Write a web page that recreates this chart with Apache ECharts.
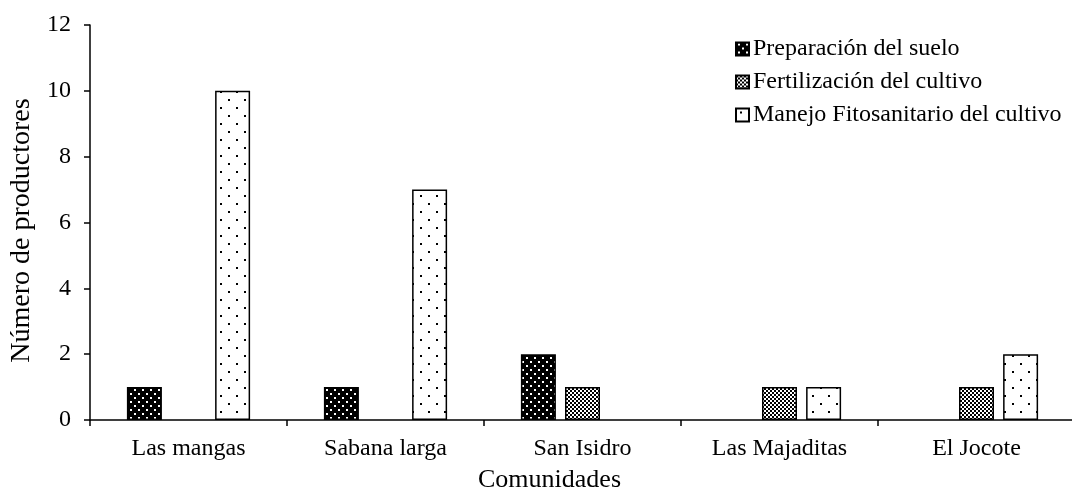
<!DOCTYPE html>
<html>
<head>
<meta charset="utf-8">
<script src="https://cdn.jsdelivr.net/npm/echarts@6/dist/echarts.min.js"></script>
<style>
  html, body { margin: 0; padding: 0; background: #fff; }
  #chart { width: 1072px; height: 491px; }
</style>
</head>
<body>
<div id="chart"></div>
<script>
// Communities surveyed and number of producers per practice
const categories = ['Las mangas', 'Sabana larga', 'San Isidro', 'Las Majaditas', 'El Jocote'];
const seriesNames = ['Preparación del suelo', 'Fertilización del cultivo', 'Manejo Fitosanitario del cultivo'];
const preparacion = [1, 1, 2, 0, 0];
const fertilizacion = [0, 0, 1, 1, 1];
const fitosanitario = [10, 7, 0, 1, 2];
const yTicks = { min: 0, max: 12, interval: 2 };

// Fill patterns for the bars (tiles repeated by the canvas)
function tile(size, bg, fg, dots, dot) {
  const c = document.createElement('canvas');
  c.width = size; c.height = size;
  const g = c.getContext('2d');
  g.fillStyle = bg; g.fillRect(0, 0, size, size);
  g.fillStyle = fg;
  dots.forEach(p => g.fillRect(p[0], p[1], dot, dot));
  return { image: c, repeat: 'repeat' };
}
const patDark = tile(8, '#000', '#fff', [[2, 1], [6, 5]], 2);
const patCheck = tile(4, '#fff', '#000', [[0, 0], [2, 2]], 2);
const patSparse = tile(16, '#fff', '#000', [[4, 3], [12, 11]], 2);

const font = 'Liberation Serif, Times New Roman, serif';
const chart = echarts.init(document.getElementById('chart'), null, { renderer: 'canvas' });

function barSeries(name, values, fill) {
  return {
    name: name,
    type: 'bar',
    // zero-height bars get no outline so nothing is drawn over the axis
    data: values.map(v => (v === 0 ? { value: v, itemStyle: { borderWidth: 0 } } : v)),
    barWidth: 35,
    barGap: '26%',
    itemStyle: { color: fill, borderColor: '#000', borderWidth: 1.5 },
    emphasis: { disabled: true },
    animation: false
  };
}

chart.setOption({
  backgroundColor: '#fff',
  animation: false,
  grid: { left: 90, right: -3, top: 25, bottom: 71, containLabel: false, outerBoundsMode: 'none' },
  legend: {
    orient: 'vertical',
    left: 730,
    top: 32,
    itemWidth: 13,
    itemHeight: 13,
    itemGap: 9,
    icon: 'rect',
    data: seriesNames,
    textStyle: { fontFamily: font, fontSize: 24, color: '#000', padding: [0, 0, 0, -1] }
  },
  xAxis: {
    type: 'category',
    data: categories,
    name: 'Comunidades',
    nameLocation: 'middle',
    nameGap: 47,
    nameTextStyle: { fontFamily: font, fontSize: 26, color: '#000', padding: [0, 66, 0, 0] },
    axisLine: { lineStyle: { color: '#000', width: 1.5 } },
    axisTick: { show: true, length: 6, lineStyle: { color: '#000', width: 1.5 } },
    axisLabel: { fontFamily: font, fontSize: 24, color: '#000', margin: 17, interval: 0 },
    splitLine: { show: false }
  },
  yAxis: {
    type: 'value',
    min: yTicks.min,
    max: yTicks.max,
    interval: yTicks.interval,
    name: 'Número de productores',
    nameLocation: 'middle',
    nameGap: 54,
    nameTextStyle: { fontFamily: font, fontSize: 28, color: '#000', padding: [0, 16, 0, 0] },
    axisLine: { show: true, lineStyle: { color: '#000', width: 1.5 } },
    axisTick: { show: true, length: 6, lineStyle: { color: '#000', width: 1.5 } },
    axisLabel: { fontFamily: font, fontSize: 24, color: '#000', margin: 19 },
    splitLine: { show: false }
  },
  series: [
    barSeries(seriesNames[0], preparacion, patDark),
    barSeries(seriesNames[1], fertilizacion, patCheck),
    barSeries(seriesNames[2], fitosanitario, patSparse)
  ]
});
</script>
</body>
</html>
